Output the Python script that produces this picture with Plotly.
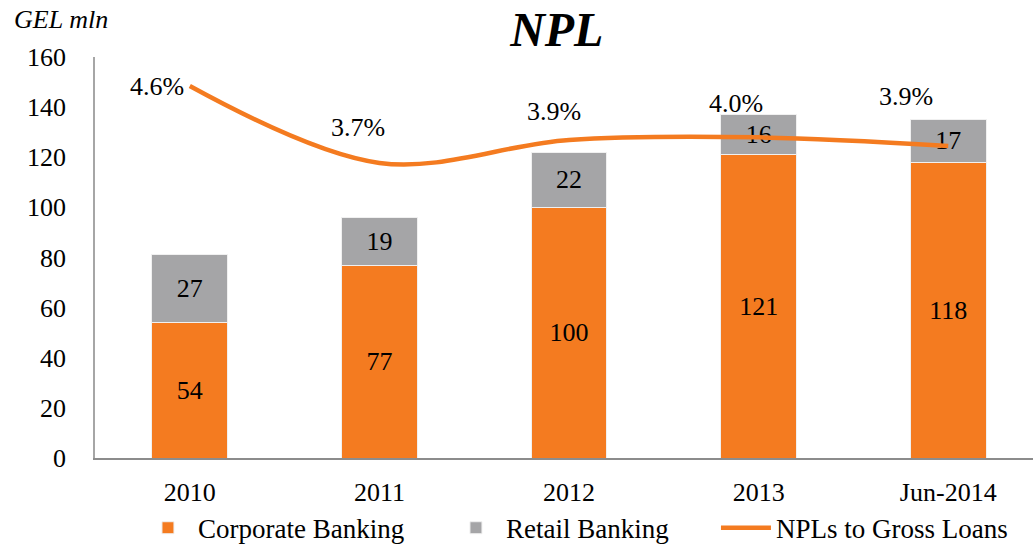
import plotly.graph_objects as go

categories = ["2010", "2011", "2012", "2013", "Jun-2014"]
corporate = [54, 77, 100, 121, 118]
retail = [27, 19, 22, 16, 17]
npl_ratio = [4.6, 3.7, 3.97, 4.0, 3.9]
npl_labels = ["4.6%", "3.7%", "3.9%", "4.0%", "3.9%"]
y_ticks = [0, 20, 40, 60, 80, 100, 120, 140, 160]

ORANGE = "#F47B20"
GRAY = "#A5A5A7"
FONT = "Liberation Serif, Times New Roman, serif"
FS = 26

fig = go.Figure()
fig.add_trace(go.Bar(
    x=categories, y=corporate, name="Corporate Banking", legendwidth=243,
    marker=dict(color=ORANGE, line=dict(color="#F0F0F0", width=1)),
    text=corporate, textposition="inside", insidetextanchor="middle",
    textfont=dict(color="black", size=FS, family=FONT), textangle=0,
))
fig.add_trace(go.Bar(
    x=categories, y=retail, name="Retail Banking", legendwidth=205,
    marker=dict(color=GRAY, line=dict(color="#F0F0F0", width=1)),
    text=retail, textposition="inside", insidetextanchor="middle",
    textfont=dict(color="black", size=FS, family=FONT), textangle=0,
))
fig.add_trace(go.Scatter(
    x=categories, y=npl_ratio, name="NPLs to Gross Loans", yaxis="y2",
    mode="lines", line=dict(color=ORANGE, width=4.5, shape="spline", smoothing=1.0),
))

# label offsets (pixels) for the ratio labels
dx = [-4, -21, -15, -23, -42]
dy = [0, 35, 28, 34, 49]
anchors = ["right", "center", "center", "center", "center"]
for i, (v, t) in enumerate(zip(npl_ratio, npl_labels)):
    fig.add_annotation(x=i, y=v, xref="x", yref="y2", text=t, showarrow=False,
                       xshift=dx[i], yshift=dy[i], xanchor=anchors[i], yanchor="middle",
                       font=dict(size=FS, color="black", family=FONT))

fig.add_annotation(x=-0.0885, y=1.093, xref="paper", yref="paper", text="<i>GEL mln</i>",
                   showarrow=False, xanchor="left", yanchor="middle",
                   font=dict(size=26, color="black", family=FONT))

fig.update_layout(
    width=1033, height=546,
    margin=dict(l=95, r=0, t=57, b=88, autoexpand=False),
    barmode="stack", bargap=0.6,
    plot_bgcolor="white", paper_bgcolor="white",
    font=dict(family=FONT, size=FS, color="black"),
    title=dict(text="<b><i>NPL</i></b>", x=0.539, xanchor="center", y=0.946, yanchor="middle",
               font=dict(size=48, family=FONT, color="black")),
    xaxis=dict(range=[-0.5, 4.447], showline=True, linecolor="#8C8C8C", linewidth=2,
               ticks="", ticklabelstandoff=10, tickfont=dict(size=FS, family=FONT),
               automargin=False),
    yaxis=dict(range=[0, 160], tickvals=y_ticks, showline=True, linecolor="#A6A6A6", linewidth=1.5,
               showgrid=False, zeroline=False, ticks="", ticklabelstandoff=22,
               tickfont=dict(size=FS, family=FONT), automargin=False),
    yaxis2=dict(range=[0.248, 4.94], overlaying="y", side="right", visible=False),
    legend=dict(orientation="h", x=0.0458, xanchor="left", y=-0.175, yanchor="middle",
                font=dict(size=27, family=FONT), itemwidth=50, traceorder="normal"),
    showlegend=True,
)

fig.write_html("out.html", config={"displayModeBar": False},
               post_script="document.body.style.margin='0px';")
